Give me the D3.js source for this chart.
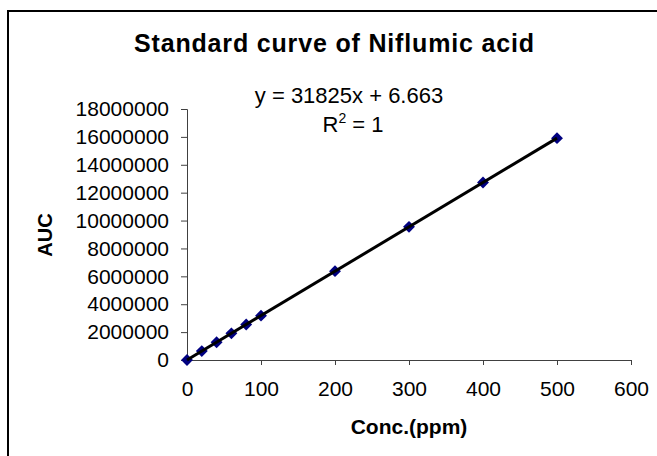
<!DOCTYPE html>
<html>
<head>
<meta charset="utf-8">
<script src="https://cdn.jsdelivr.net/npm/d3@7"></script>
<style>
  html, body { margin: 0; padding: 0; background: #fff; }
  svg { display: block; font-family: "Liberation Sans", Arial, sans-serif; }
</style>
</head>
<body>
<svg id="chart" width="657" height="456"></svg>
<script>
// ---- data ----
const concentrations = [0, 20, 40, 60, 80, 100, 200, 300, 400, 500];
const aucValues = [0, 640000, 1270000, 1910000, 2550000, 3180000, 6370000, 9550000, 12730000, 15910000];
const xTicks = [0, 100, 200, 300, 400, 500, 600];
const yTicks = [0, 2000000, 4000000, 6000000, 8000000, 10000000, 12000000, 14000000, 16000000, 18000000];
const trendSlope = 31825;
const trendIntercept = 6.663;
const trendRange = [0, 500];
const titleText = "Standard curve of Niflumic acid";
const xLabel = "Conc.(ppm)";
const yLabel = "AUC";

const svg = d3.select("#chart");

// chart frame (extends past right/bottom edges)
svg.append("rect")
  .attr("x", 8).attr("y", 11)
  .attr("width", 700).attr("height", 500)
  .attr("fill", "#fff").attr("stroke", "#000").attr("stroke-width", 2);

const x = d3.scaleLinear().domain([0, 600]).range([187, 631]);
const y = d3.scaleLinear().domain([0, 18000000]).range([360, 109]);

// title
svg.append("text")
  .attr("x", 334).attr("y", 52)
  .attr("text-anchor", "middle")
  .attr("font-size", 25).attr("font-weight", "bold")
  .attr("textLength", 400).attr("lengthAdjust", "spacing")
  .text(titleText);

// axes
const xAxis = d3.axisBottom(x).tickValues(xTicks).tickSize(5).tickPadding(16).tickFormat(d3.format("d"));
const yAxis = d3.axisLeft(y).tickValues(yTicks).tickSize(6).tickPadding(12).tickFormat(d3.format("d"));

const gx = svg.append("g").attr("transform", `translate(0,${y(0)})`).call(xAxis);
const gy = svg.append("g").attr("transform", `translate(${x(0)},0)`).call(yAxis);

[gx, gy].forEach(g => {
  g.select(".domain").attr("stroke", "#404040").attr("stroke-width", 1);
  g.selectAll(".tick line").attr("stroke", "#404040").attr("stroke-width", 1);
  g.selectAll(".tick text")
    .attr("fill", "#000")
    .attr("font-size", 21)
    .attr("font-family", "Liberation Sans, Arial, sans-serif");
});

// axis titles
svg.append("text")
  .attr("x", 409).attr("y", 434)
  .attr("text-anchor", "middle")
  .attr("font-size", 21).attr("font-weight", "bold")
  .text(xLabel);

svg.append("text")
  .attr("transform", `translate(52,235) rotate(-90)`)
  .attr("text-anchor", "middle")
  .attr("font-size", 20).attr("font-weight", "bold")
  .text(yLabel);

// markers
const diamond = d3.symbol().type(d3.symbolDiamond2).size(90);
svg.append("g").selectAll("path")
  .data(concentrations.map((c, i) => [c, aucValues[i]]))
  .join("path")
  .attr("d", diamond)
  .attr("transform", d => `translate(${x(d[0])},${y(d[1])})`)
  .attr("fill", "#000080");

// trendline (drawn over markers)
svg.append("line")
  .attr("x1", x(trendRange[0])).attr("y1", y(trendSlope * trendRange[0] + trendIntercept))
  .attr("x2", x(trendRange[1])).attr("y2", y(trendSlope * trendRange[1] + trendIntercept))
  .attr("stroke", "#000").attr("stroke-width", 3);

// equation label
svg.append("text")
  .attr("x", 349).attr("y", 103)
  .attr("text-anchor", "middle")
  .attr("font-size", 22)
  .text("y = 31825x + 6.663");

const r2 = svg.append("text")
  .attr("x", 353).attr("y", 132)
  .attr("text-anchor", "middle")
  .attr("font-size", 22);
r2.append("tspan").text("R");
r2.append("tspan").attr("dy", -9).attr("font-size", 14).text("2");
r2.append("tspan").attr("dy", 9).text(" = 1");
</script>
</body>
</html>
